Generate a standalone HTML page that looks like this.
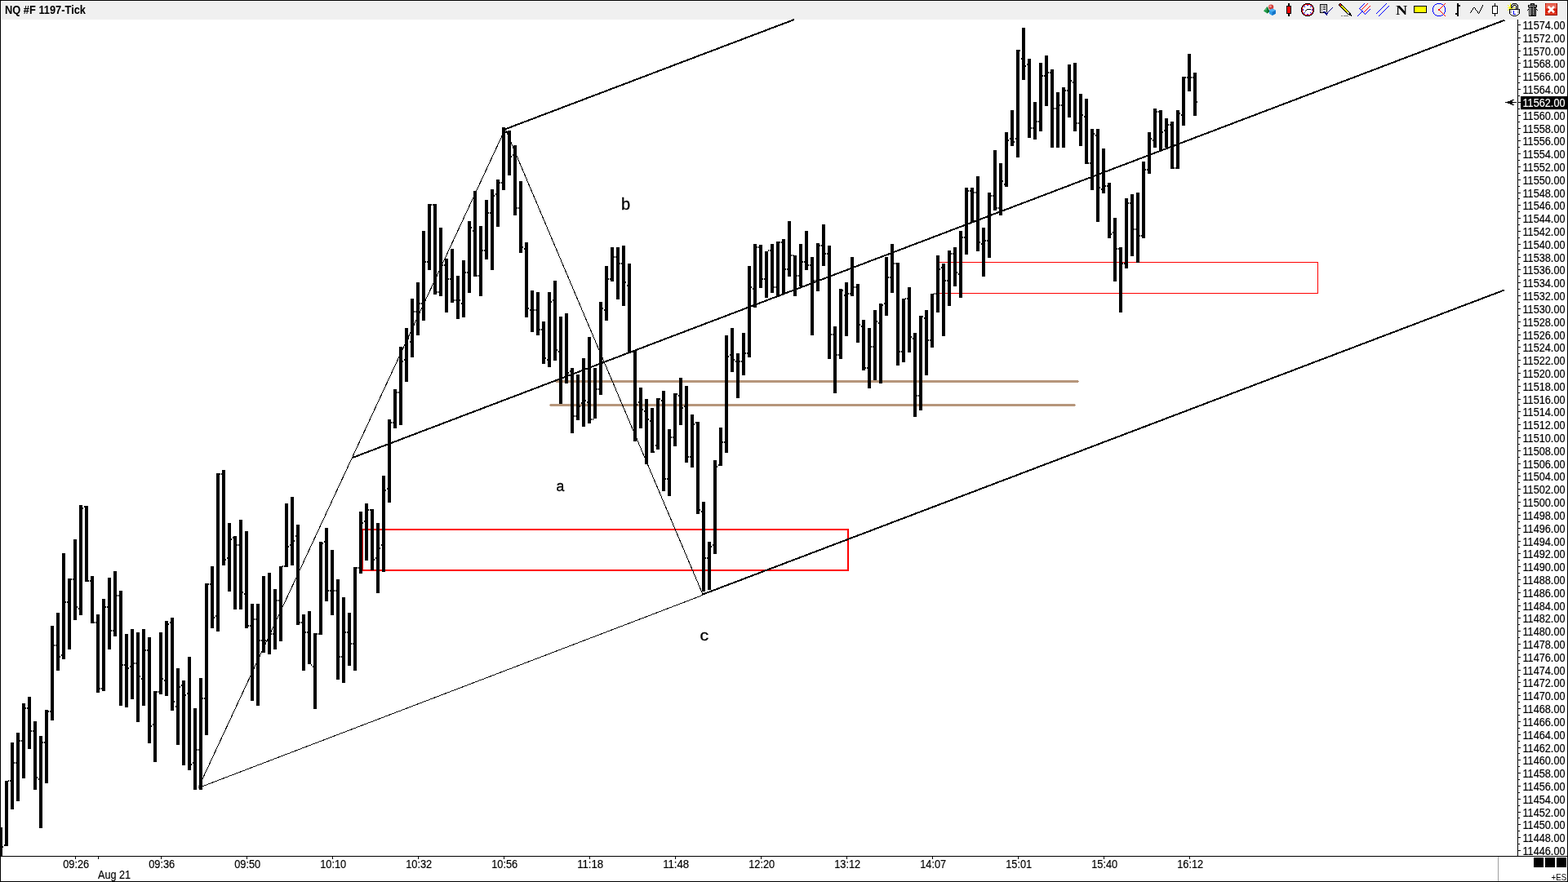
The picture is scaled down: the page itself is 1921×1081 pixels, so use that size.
<!DOCTYPE html>
<html lang="en"><head><meta charset="utf-8"><title>NQ #F 1197-Tick</title>
<style>
html,body{margin:0;padding:0;background:#fff;overflow:hidden}
body{width:1921px;height:1081px;position:relative;font-family:"Liberation Sans",sans-serif}
svg{position:absolute;left:0;top:0;display:block}
text{font-family:"Liberation Sans",sans-serif;fill:#000}
.ax{font-size:14px;stroke:#000;stroke-width:0.18px}
.crisp{shape-rendering:crispEdges}
</style></head><body>
<svg width="1921" height="1081" viewBox="0 0 1921 1081">
<rect x="0" y="0" width="1921" height="1081" fill="#fff"/>
<rect class="crisp" x="2" y="2" width="1917" height="22" fill="#f0f0f0"/>
<g class="crisp" fill="#000">
<rect x="0" y="0" width="1921" height="1"/>
<rect x="0" y="0" width="1" height="1081"/>
<rect x="1920" y="0" width="1" height="1081"/>
<rect x="0" y="1080" width="1921" height="1"/>
<rect x="1" y="1049" width="1919" height="1"/>
<rect x="1859" y="24" width="1" height="1026"/>
</g>
<rect class="crisp" x="1835" y="1050" width="1" height="30" fill="#a0a0a0"/>
<g class="crisp" fill="#000"><rect x="1879" y="1051" width="12" height="12"/><rect x="1893" y="1051" width="12" height="12"/><rect x="1907" y="1051" width="12" height="12"/></g>
<text x="1900.6" y="1078.8" style="font-size:11.4px" textLength="18.6" lengthAdjust="spacingAndGlyphs">+ES</text>
<text x="6" y="17" style="font-size:14px;font-weight:bold" textLength="99" lengthAdjust="spacingAndGlyphs">NQ #F 1197-Tick</text>
<g class="crisp" fill="#b6967b"><rect x="681" y="466" width="640" height="3"/><rect x="680" y="467" width="642" height="1"/><rect x="674" y="495" width="643" height="3"/><rect x="673" y="496" width="645" height="1"/></g>
<rect class="crisp" x="444" y="649" width="595" height="50" fill="none" stroke="#f00" stroke-width="2"/>
<rect class="crisp" x="1149.5" y="321.5" width="465" height="38" fill="none" stroke="#f00" stroke-width="1"/>
<g stroke="#000" fill="none" class="crisp">
<line x1="243.5" y1="964.5" x2="619" y2="158" stroke-width="1"/>
<line x1="619" y1="158" x2="861" y2="728.5" stroke-width="1"/>
<line x1="243.5" y1="965.5" x2="861" y2="729.4" stroke-width="1"/>
<line x1="861" y1="728.5" x2="1843" y2="355.5" stroke-width="2"/>
<line x1="431" y1="561.3" x2="1843.4" y2="24.6" stroke-width="2"/>
<line x1="619" y1="158.3" x2="973" y2="24" stroke-width="2"/>
</g>
<g class="crisp" fill="#000">
<rect x="0" y="1014" width="3" height="35"/>
<rect x="3" y="1037" width="1" height="2"/>
<rect x="6" y="957" width="4" height="80"/>
<rect x="5" y="1035" width="1" height="2"/>
<rect x="10" y="956" width="1" height="2"/>
<rect x="13" y="910" width="4" height="82"/>
<rect x="12" y="956" width="1" height="2"/>
<rect x="17" y="934" width="1" height="2"/>
<rect x="20" y="898" width="4" height="84"/>
<rect x="19" y="934" width="1" height="2"/>
<rect x="24" y="907" width="1" height="2"/>
<rect x="27" y="862" width="4" height="92"/>
<rect x="26" y="907" width="1" height="2"/>
<rect x="31" y="867" width="1" height="2"/>
<rect x="34" y="854" width="4" height="64"/>
<rect x="33" y="867" width="1" height="2"/>
<rect x="38" y="895" width="1" height="2"/>
<rect x="41" y="884" width="4" height="84"/>
<rect x="40" y="895" width="1" height="2"/>
<rect x="45" y="952" width="1" height="2"/>
<rect x="48" y="902" width="4" height="113"/>
<rect x="47" y="954" width="1" height="2"/>
<rect x="52" y="909" width="1" height="2"/>
<rect x="55" y="870" width="4" height="90"/>
<rect x="54" y="909" width="1" height="2"/>
<rect x="59" y="871" width="1" height="2"/>
<rect x="62" y="767" width="4" height="116"/>
<rect x="61" y="871" width="1" height="2"/>
<rect x="66" y="790" width="1" height="2"/>
<rect x="69" y="751" width="4" height="71"/>
<rect x="68" y="790" width="1" height="2"/>
<rect x="73" y="804" width="1" height="2"/>
<rect x="76" y="678" width="4" height="130"/>
<rect x="75" y="802" width="1" height="2"/>
<rect x="80" y="737" width="1" height="2"/>
<rect x="83" y="709" width="4" height="87"/>
<rect x="82" y="737" width="1" height="2"/>
<rect x="87" y="709" width="1" height="2"/>
<rect x="90" y="661" width="4" height="99"/>
<rect x="89" y="709" width="1" height="2"/>
<rect x="94" y="743" width="1" height="2"/>
<rect x="97" y="619" width="4" height="135"/>
<rect x="96" y="745" width="1" height="2"/>
<rect x="101" y="622" width="1" height="2"/>
<rect x="104" y="620" width="4" height="93"/>
<rect x="103" y="620" width="1" height="2"/>
<rect x="108" y="711" width="1" height="2"/>
<rect x="111" y="706" width="4" height="58"/>
<rect x="110" y="711" width="1" height="2"/>
<rect x="115" y="762" width="1" height="2"/>
<rect x="118" y="753" width="4" height="96"/>
<rect x="117" y="762" width="1" height="2"/>
<rect x="122" y="843" width="1" height="2"/>
<rect x="125" y="734" width="4" height="113"/>
<rect x="124" y="843" width="1" height="2"/>
<rect x="129" y="743" width="1" height="2"/>
<rect x="132" y="708" width="4" height="88"/>
<rect x="131" y="743" width="1" height="2"/>
<rect x="136" y="772" width="1" height="2"/>
<rect x="139" y="700" width="4" height="80"/>
<rect x="138" y="772" width="1" height="2"/>
<rect x="143" y="729" width="1" height="2"/>
<rect x="146" y="724" width="4" height="141"/>
<rect x="145" y="729" width="1" height="2"/>
<rect x="150" y="814" width="1" height="2"/>
<rect x="153" y="777" width="4" height="90"/>
<rect x="152" y="814" width="1" height="2"/>
<rect x="157" y="818" width="1" height="2"/>
<rect x="160" y="771" width="4" height="86"/>
<rect x="159" y="816" width="1" height="2"/>
<rect x="164" y="812" width="1" height="2"/>
<rect x="167" y="775" width="4" height="110"/>
<rect x="166" y="812" width="1" height="2"/>
<rect x="171" y="828" width="1" height="2"/>
<rect x="174" y="771" width="4" height="94"/>
<rect x="173" y="831" width="1" height="2"/>
<rect x="178" y="796" width="1" height="2"/>
<rect x="181" y="781" width="4" height="130"/>
<rect x="180" y="796" width="1" height="2"/>
<rect x="185" y="889" width="1" height="2"/>
<rect x="188" y="847" width="4" height="87"/>
<rect x="187" y="887" width="1" height="2"/>
<rect x="192" y="847" width="1" height="2"/>
<rect x="195" y="775" width="4" height="76"/>
<rect x="194" y="847" width="1" height="2"/>
<rect x="199" y="831" width="1" height="2"/>
<rect x="202" y="761" width="4" height="92"/>
<rect x="201" y="833" width="1" height="2"/>
<rect x="206" y="764" width="1" height="2"/>
<rect x="209" y="757" width="4" height="114"/>
<rect x="208" y="762" width="1" height="2"/>
<rect x="213" y="859" width="1" height="2"/>
<rect x="216" y="819" width="4" height="94"/>
<rect x="215" y="865" width="1" height="2"/>
<rect x="220" y="841" width="1" height="2"/>
<rect x="223" y="834" width="4" height="104"/>
<rect x="222" y="839" width="1" height="2"/>
<rect x="227" y="851" width="1" height="2"/>
<rect x="230" y="805" width="4" height="139"/>
<rect x="229" y="849" width="1" height="2"/>
<rect x="234" y="936" width="1" height="2"/>
<rect x="237" y="868" width="4" height="100"/>
<rect x="236" y="934" width="1" height="2"/>
<rect x="241" y="918" width="1" height="2"/>
<rect x="244" y="831" width="4" height="137"/>
<rect x="243" y="918" width="1" height="2"/>
<rect x="248" y="855" width="1" height="2"/>
<rect x="251" y="715" width="4" height="186"/>
<rect x="250" y="855" width="1" height="2"/>
<rect x="255" y="715" width="1" height="2"/>
<rect x="258" y="694" width="4" height="76"/>
<rect x="257" y="715" width="1" height="2"/>
<rect x="262" y="756" width="1" height="2"/>
<rect x="265" y="580" width="4" height="194"/>
<rect x="264" y="754" width="1" height="2"/>
<rect x="269" y="580" width="1" height="2"/>
<rect x="272" y="576" width="4" height="117"/>
<rect x="271" y="580" width="1" height="2"/>
<rect x="276" y="685" width="1" height="2"/>
<rect x="279" y="641" width="4" height="84"/>
<rect x="278" y="683" width="1" height="2"/>
<rect x="283" y="660" width="1" height="2"/>
<rect x="286" y="657" width="4" height="90"/>
<rect x="285" y="658" width="1" height="2"/>
<rect x="290" y="667" width="1" height="2"/>
<rect x="293" y="637" width="4" height="110"/>
<rect x="292" y="667" width="1" height="2"/>
<rect x="297" y="725" width="1" height="2"/>
<rect x="300" y="651" width="4" height="119"/>
<rect x="299" y="727" width="1" height="2"/>
<rect x="304" y="766" width="1" height="2"/>
<rect x="307" y="740" width="4" height="119"/>
<rect x="306" y="766" width="1" height="2"/>
<rect x="311" y="758" width="1" height="2"/>
<rect x="314" y="740" width="4" height="125"/>
<rect x="313" y="758" width="1" height="2"/>
<rect x="318" y="784" width="1" height="2"/>
<rect x="321" y="706" width="4" height="94"/>
<rect x="320" y="784" width="1" height="2"/>
<rect x="325" y="784" width="1" height="2"/>
<rect x="328" y="702" width="4" height="100"/>
<rect x="327" y="784" width="1" height="2"/>
<rect x="332" y="776" width="1" height="2"/>
<rect x="335" y="722" width="4" height="74"/>
<rect x="334" y="776" width="1" height="2"/>
<rect x="339" y="735" width="1" height="2"/>
<rect x="342" y="694" width="4" height="92"/>
<rect x="341" y="735" width="1" height="2"/>
<rect x="346" y="693" width="1" height="2"/>
<rect x="349" y="617" width="4" height="78"/>
<rect x="348" y="693" width="1" height="2"/>
<rect x="353" y="669" width="1" height="2"/>
<rect x="356" y="609" width="4" height="84"/>
<rect x="355" y="667" width="1" height="2"/>
<rect x="360" y="662" width="1" height="2"/>
<rect x="363" y="643" width="4" height="123"/>
<rect x="362" y="656" width="1" height="2"/>
<rect x="367" y="762" width="1" height="2"/>
<rect x="370" y="753" width="4" height="69"/>
<rect x="369" y="762" width="1" height="2"/>
<rect x="374" y="774" width="1" height="2"/>
<rect x="377" y="749" width="4" height="65"/>
<rect x="376" y="774" width="1" height="2"/>
<rect x="381" y="814" width="1" height="2"/>
<rect x="384" y="776" width="4" height="93"/>
<rect x="383" y="816" width="1" height="2"/>
<rect x="388" y="776" width="1" height="2"/>
<rect x="391" y="664" width="4" height="114"/>
<rect x="390" y="776" width="1" height="2"/>
<rect x="395" y="665" width="1" height="2"/>
<rect x="398" y="647" width="4" height="90"/>
<rect x="397" y="663" width="1" height="2"/>
<rect x="402" y="723" width="1" height="2"/>
<rect x="405" y="674" width="4" height="80"/>
<rect x="404" y="723" width="1" height="2"/>
<rect x="409" y="723" width="1" height="2"/>
<rect x="412" y="710" width="4" height="123"/>
<rect x="411" y="723" width="1" height="2"/>
<rect x="416" y="804" width="1" height="2"/>
<rect x="419" y="732" width="4" height="105"/>
<rect x="418" y="804" width="1" height="2"/>
<rect x="423" y="774" width="1" height="2"/>
<rect x="426" y="751" width="4" height="65"/>
<rect x="425" y="774" width="1" height="2"/>
<rect x="430" y="788" width="1" height="2"/>
<rect x="433" y="695" width="4" height="127"/>
<rect x="432" y="788" width="1" height="2"/>
<rect x="437" y="695" width="1" height="2"/>
<rect x="440" y="627" width="4" height="76"/>
<rect x="439" y="695" width="1" height="2"/>
<rect x="444" y="640" width="1" height="2"/>
<rect x="447" y="617" width="4" height="70"/>
<rect x="446" y="638" width="1" height="2"/>
<rect x="451" y="624" width="1" height="2"/>
<rect x="454" y="624" width="4" height="75"/>
<rect x="453" y="624" width="1" height="2"/>
<rect x="458" y="685" width="1" height="2"/>
<rect x="461" y="641" width="4" height="86"/>
<rect x="460" y="683" width="1" height="2"/>
<rect x="465" y="671" width="1" height="2"/>
<rect x="468" y="583" width="4" height="118"/>
<rect x="467" y="667" width="1" height="2"/>
<rect x="472" y="600" width="1" height="2"/>
<rect x="475" y="514" width="4" height="102"/>
<rect x="474" y="598" width="1" height="2"/>
<rect x="479" y="517" width="1" height="2"/>
<rect x="482" y="477" width="4" height="48"/>
<rect x="481" y="517" width="1" height="2"/>
<rect x="486" y="480" width="1" height="2"/>
<rect x="489" y="425" width="4" height="96"/>
<rect x="488" y="480" width="1" height="2"/>
<rect x="493" y="442" width="1" height="2"/>
<rect x="496" y="402" width="4" height="66"/>
<rect x="495" y="440" width="1" height="2"/>
<rect x="500" y="414" width="1" height="2"/>
<rect x="503" y="366" width="4" height="72"/>
<rect x="502" y="418" width="1" height="2"/>
<rect x="507" y="381" width="1" height="2"/>
<rect x="510" y="346" width="4" height="65"/>
<rect x="509" y="381" width="1" height="2"/>
<rect x="514" y="371" width="1" height="2"/>
<rect x="517" y="283" width="4" height="110"/>
<rect x="516" y="371" width="1" height="2"/>
<rect x="521" y="320" width="1" height="2"/>
<rect x="524" y="250" width="4" height="81"/>
<rect x="523" y="320" width="1" height="2"/>
<rect x="528" y="250" width="1" height="2"/>
<rect x="531" y="250" width="4" height="111"/>
<rect x="530" y="250" width="1" height="2"/>
<rect x="535" y="357" width="1" height="2"/>
<rect x="538" y="279" width="4" height="84"/>
<rect x="537" y="357" width="1" height="2"/>
<rect x="542" y="324" width="1" height="2"/>
<rect x="545" y="317" width="4" height="66"/>
<rect x="544" y="324" width="1" height="2"/>
<rect x="549" y="341" width="1" height="2"/>
<rect x="552" y="305" width="4" height="66"/>
<rect x="551" y="341" width="1" height="2"/>
<rect x="556" y="367" width="1" height="2"/>
<rect x="559" y="338" width="4" height="53"/>
<rect x="558" y="367" width="1" height="2"/>
<rect x="563" y="367" width="1" height="2"/>
<rect x="566" y="319" width="4" height="70"/>
<rect x="565" y="371" width="1" height="2"/>
<rect x="570" y="333" width="1" height="2"/>
<rect x="573" y="271" width="4" height="88"/>
<rect x="572" y="333" width="1" height="2"/>
<rect x="577" y="278" width="1" height="2"/>
<rect x="580" y="234" width="4" height="105"/>
<rect x="579" y="282" width="1" height="2"/>
<rect x="584" y="337" width="1" height="2"/>
<rect x="587" y="277" width="4" height="86"/>
<rect x="586" y="337" width="1" height="2"/>
<rect x="591" y="306" width="1" height="2"/>
<rect x="594" y="245" width="4" height="73"/>
<rect x="593" y="306" width="1" height="2"/>
<rect x="598" y="260" width="1" height="2"/>
<rect x="601" y="232" width="4" height="99"/>
<rect x="600" y="260" width="1" height="2"/>
<rect x="605" y="239" width="1" height="2"/>
<rect x="608" y="220" width="4" height="58"/>
<rect x="607" y="237" width="1" height="2"/>
<rect x="612" y="223" width="1" height="2"/>
<rect x="615" y="156" width="4" height="77"/>
<rect x="614" y="223" width="1" height="2"/>
<rect x="619" y="161" width="1" height="2"/>
<rect x="622" y="160" width="4" height="55"/>
<rect x="621" y="161" width="1" height="2"/>
<rect x="626" y="191" width="1" height="2"/>
<rect x="629" y="178" width="4" height="86"/>
<rect x="628" y="189" width="1" height="2"/>
<rect x="633" y="254" width="1" height="2"/>
<rect x="636" y="222" width="4" height="88"/>
<rect x="635" y="254" width="1" height="2"/>
<rect x="640" y="302" width="1" height="2"/>
<rect x="643" y="297" width="4" height="92"/>
<rect x="642" y="304" width="1" height="2"/>
<rect x="647" y="377" width="1" height="2"/>
<rect x="650" y="356" width="4" height="51"/>
<rect x="649" y="379" width="1" height="2"/>
<rect x="654" y="379" width="1" height="2"/>
<rect x="657" y="358" width="4" height="53"/>
<rect x="656" y="379" width="1" height="2"/>
<rect x="661" y="403" width="1" height="2"/>
<rect x="664" y="394" width="4" height="52"/>
<rect x="663" y="403" width="1" height="2"/>
<rect x="668" y="438" width="1" height="2"/>
<rect x="671" y="358" width="4" height="92"/>
<rect x="670" y="440" width="1" height="2"/>
<rect x="675" y="369" width="1" height="2"/>
<rect x="678" y="344" width="4" height="98"/>
<rect x="677" y="367" width="1" height="2"/>
<rect x="682" y="428" width="1" height="2"/>
<rect x="685" y="388" width="4" height="107"/>
<rect x="684" y="430" width="1" height="2"/>
<rect x="692" y="384" width="4" height="86"/>
<rect x="696" y="456" width="1" height="2"/>
<rect x="699" y="451" width="4" height="80"/>
<rect x="698" y="454" width="1" height="2"/>
<rect x="703" y="509" width="1" height="2"/>
<rect x="706" y="459" width="4" height="56"/>
<rect x="705" y="509" width="1" height="2"/>
<rect x="710" y="497" width="1" height="2"/>
<rect x="713" y="439" width="4" height="84"/>
<rect x="712" y="493" width="1" height="2"/>
<rect x="717" y="490" width="1" height="2"/>
<rect x="720" y="413" width="4" height="106"/>
<rect x="719" y="492" width="1" height="2"/>
<rect x="724" y="513" width="1" height="2"/>
<rect x="727" y="451" width="4" height="62"/>
<rect x="726" y="513" width="1" height="2"/>
<rect x="731" y="476" width="1" height="2"/>
<rect x="734" y="370" width="4" height="114"/>
<rect x="733" y="476" width="1" height="2"/>
<rect x="738" y="377" width="1" height="2"/>
<rect x="741" y="326" width="4" height="67"/>
<rect x="740" y="379" width="1" height="2"/>
<rect x="745" y="341" width="1" height="2"/>
<rect x="748" y="303" width="4" height="42"/>
<rect x="747" y="341" width="1" height="2"/>
<rect x="752" y="314" width="1" height="2"/>
<rect x="755" y="303" width="4" height="64"/>
<rect x="754" y="314" width="1" height="2"/>
<rect x="759" y="322" width="1" height="2"/>
<rect x="762" y="301" width="4" height="74"/>
<rect x="761" y="322" width="1" height="2"/>
<rect x="766" y="345" width="1" height="2"/>
<rect x="769" y="323" width="4" height="110"/>
<rect x="768" y="349" width="1" height="2"/>
<rect x="773" y="430" width="1" height="2"/>
<rect x="776" y="430" width="4" height="111"/>
<rect x="775" y="430" width="1" height="2"/>
<rect x="780" y="495" width="1" height="2"/>
<rect x="783" y="475" width="4" height="50"/>
<rect x="782" y="492" width="1" height="2"/>
<rect x="787" y="501" width="1" height="2"/>
<rect x="790" y="489" width="4" height="80"/>
<rect x="789" y="503" width="1" height="2"/>
<rect x="794" y="513" width="1" height="2"/>
<rect x="797" y="500" width="4" height="55"/>
<rect x="796" y="515" width="1" height="2"/>
<rect x="801" y="553" width="1" height="2"/>
<rect x="804" y="488" width="4" height="63"/>
<rect x="803" y="545" width="1" height="2"/>
<rect x="808" y="488" width="1" height="2"/>
<rect x="811" y="479" width="4" height="123"/>
<rect x="810" y="490" width="1" height="2"/>
<rect x="815" y="586" width="1" height="2"/>
<rect x="818" y="526" width="4" height="82"/>
<rect x="817" y="586" width="1" height="2"/>
<rect x="822" y="535" width="1" height="2"/>
<rect x="825" y="482" width="4" height="65"/>
<rect x="824" y="535" width="1" height="2"/>
<rect x="829" y="482" width="1" height="2"/>
<rect x="832" y="463" width="4" height="58"/>
<rect x="831" y="484" width="1" height="2"/>
<rect x="836" y="499" width="1" height="2"/>
<rect x="839" y="473" width="4" height="94"/>
<rect x="838" y="497" width="1" height="2"/>
<rect x="843" y="559" width="1" height="2"/>
<rect x="846" y="508" width="4" height="65"/>
<rect x="845" y="559" width="1" height="2"/>
<rect x="850" y="519" width="1" height="2"/>
<rect x="853" y="517" width="4" height="113"/>
<rect x="852" y="517" width="1" height="2"/>
<rect x="857" y="624" width="1" height="2"/>
<rect x="860" y="615" width="4" height="110"/>
<rect x="859" y="626" width="1" height="2"/>
<rect x="864" y="683" width="1" height="2"/>
<rect x="867" y="664" width="4" height="59"/>
<rect x="866" y="683" width="1" height="2"/>
<rect x="871" y="669" width="1" height="2"/>
<rect x="874" y="564" width="4" height="115"/>
<rect x="873" y="667" width="1" height="2"/>
<rect x="878" y="571" width="1" height="2"/>
<rect x="881" y="524" width="4" height="47"/>
<rect x="880" y="569" width="1" height="2"/>
<rect x="885" y="541" width="1" height="2"/>
<rect x="888" y="411" width="4" height="144"/>
<rect x="887" y="541" width="1" height="2"/>
<rect x="892" y="436" width="1" height="2"/>
<rect x="895" y="402" width="4" height="54"/>
<rect x="894" y="434" width="1" height="2"/>
<rect x="899" y="440" width="1" height="2"/>
<rect x="902" y="433" width="4" height="55"/>
<rect x="901" y="442" width="1" height="2"/>
<rect x="906" y="442" width="1" height="2"/>
<rect x="909" y="408" width="4" height="52"/>
<rect x="908" y="442" width="1" height="2"/>
<rect x="913" y="432" width="1" height="2"/>
<rect x="916" y="326" width="4" height="112"/>
<rect x="915" y="432" width="1" height="2"/>
<rect x="920" y="351" width="1" height="2"/>
<rect x="923" y="299" width="4" height="78"/>
<rect x="922" y="353" width="1" height="2"/>
<rect x="927" y="302" width="1" height="2"/>
<rect x="930" y="300" width="4" height="53"/>
<rect x="929" y="302" width="1" height="2"/>
<rect x="934" y="341" width="1" height="2"/>
<rect x="937" y="308" width="4" height="57"/>
<rect x="936" y="341" width="1" height="2"/>
<rect x="941" y="306" width="1" height="2"/>
<rect x="944" y="299" width="4" height="60"/>
<rect x="943" y="306" width="1" height="2"/>
<rect x="948" y="351" width="1" height="2"/>
<rect x="951" y="296" width="4" height="68"/>
<rect x="950" y="351" width="1" height="2"/>
<rect x="955" y="296" width="1" height="2"/>
<rect x="958" y="293" width="4" height="68"/>
<rect x="957" y="296" width="1" height="2"/>
<rect x="962" y="329" width="1" height="2"/>
<rect x="965" y="271" width="4" height="68"/>
<rect x="964" y="329" width="1" height="2"/>
<rect x="969" y="312" width="1" height="2"/>
<rect x="972" y="313" width="4" height="50"/>
<rect x="971" y="312" width="1" height="2"/>
<rect x="976" y="337" width="1" height="2"/>
<rect x="979" y="299" width="4" height="52"/>
<rect x="978" y="337" width="1" height="2"/>
<rect x="983" y="320" width="1" height="2"/>
<rect x="986" y="283" width="4" height="48"/>
<rect x="985" y="320" width="1" height="2"/>
<rect x="990" y="324" width="1" height="2"/>
<rect x="993" y="315" width="4" height="96"/>
<rect x="992" y="324" width="1" height="2"/>
<rect x="997" y="343" width="1" height="2"/>
<rect x="1000" y="298" width="4" height="59"/>
<rect x="999" y="343" width="1" height="2"/>
<rect x="1004" y="300" width="1" height="2"/>
<rect x="1007" y="275" width="4" height="51"/>
<rect x="1006" y="300" width="1" height="2"/>
<rect x="1011" y="310" width="1" height="2"/>
<rect x="1014" y="301" width="4" height="139"/>
<rect x="1013" y="310" width="1" height="2"/>
<rect x="1018" y="409" width="1" height="2"/>
<rect x="1021" y="400" width="4" height="82"/>
<rect x="1020" y="409" width="1" height="2"/>
<rect x="1025" y="434" width="1" height="2"/>
<rect x="1028" y="354" width="4" height="86"/>
<rect x="1027" y="434" width="1" height="2"/>
<rect x="1032" y="355" width="1" height="2"/>
<rect x="1035" y="346" width="4" height="66"/>
<rect x="1034" y="361" width="1" height="2"/>
<rect x="1039" y="359" width="1" height="2"/>
<rect x="1042" y="315" width="4" height="48"/>
<rect x="1041" y="359" width="1" height="2"/>
<rect x="1046" y="351" width="1" height="2"/>
<rect x="1049" y="348" width="4" height="72"/>
<rect x="1048" y="351" width="1" height="2"/>
<rect x="1053" y="397" width="1" height="2"/>
<rect x="1056" y="392" width="4" height="62"/>
<rect x="1055" y="399" width="1" height="2"/>
<rect x="1060" y="450" width="1" height="2"/>
<rect x="1063" y="402" width="4" height="74"/>
<rect x="1062" y="450" width="1" height="2"/>
<rect x="1067" y="424" width="1" height="2"/>
<rect x="1070" y="380" width="4" height="86"/>
<rect x="1069" y="424" width="1" height="2"/>
<rect x="1074" y="393" width="1" height="2"/>
<rect x="1077" y="372" width="4" height="98"/>
<rect x="1076" y="395" width="1" height="2"/>
<rect x="1081" y="373" width="1" height="2"/>
<rect x="1084" y="315" width="4" height="72"/>
<rect x="1083" y="371" width="1" height="2"/>
<rect x="1088" y="339" width="1" height="2"/>
<rect x="1091" y="299" width="4" height="60"/>
<rect x="1090" y="339" width="1" height="2"/>
<rect x="1095" y="322" width="1" height="2"/>
<rect x="1098" y="322" width="4" height="126"/>
<rect x="1097" y="322" width="1" height="2"/>
<rect x="1102" y="430" width="1" height="2"/>
<rect x="1105" y="366" width="4" height="78"/>
<rect x="1104" y="430" width="1" height="2"/>
<rect x="1109" y="365" width="1" height="2"/>
<rect x="1112" y="352" width="4" height="80"/>
<rect x="1111" y="365" width="1" height="2"/>
<rect x="1116" y="412" width="1" height="2"/>
<rect x="1119" y="408" width="4" height="103"/>
<rect x="1118" y="414" width="1" height="2"/>
<rect x="1123" y="484" width="1" height="2"/>
<rect x="1126" y="387" width="4" height="116"/>
<rect x="1125" y="484" width="1" height="2"/>
<rect x="1130" y="387" width="1" height="2"/>
<rect x="1133" y="380" width="4" height="80"/>
<rect x="1132" y="389" width="1" height="2"/>
<rect x="1137" y="416" width="1" height="2"/>
<rect x="1140" y="360" width="4" height="66"/>
<rect x="1139" y="416" width="1" height="2"/>
<rect x="1144" y="359" width="1" height="2"/>
<rect x="1147" y="313" width="4" height="70"/>
<rect x="1146" y="359" width="1" height="2"/>
<rect x="1151" y="329" width="1" height="2"/>
<rect x="1154" y="323" width="4" height="89"/>
<rect x="1153" y="327" width="1" height="2"/>
<rect x="1158" y="343" width="1" height="2"/>
<rect x="1161" y="307" width="4" height="68"/>
<rect x="1160" y="343" width="1" height="2"/>
<rect x="1165" y="310" width="1" height="2"/>
<rect x="1168" y="303" width="4" height="48"/>
<rect x="1167" y="310" width="1" height="2"/>
<rect x="1172" y="333" width="1" height="2"/>
<rect x="1175" y="283" width="4" height="82"/>
<rect x="1174" y="335" width="1" height="2"/>
<rect x="1179" y="290" width="1" height="2"/>
<rect x="1182" y="230" width="4" height="82"/>
<rect x="1181" y="290" width="1" height="2"/>
<rect x="1186" y="233" width="1" height="2"/>
<rect x="1189" y="230" width="4" height="43"/>
<rect x="1188" y="233" width="1" height="2"/>
<rect x="1193" y="235" width="1" height="2"/>
<rect x="1196" y="216" width="4" height="92"/>
<rect x="1195" y="235" width="1" height="2"/>
<rect x="1200" y="296" width="1" height="2"/>
<rect x="1203" y="279" width="4" height="60"/>
<rect x="1202" y="298" width="1" height="2"/>
<rect x="1207" y="294" width="1" height="2"/>
<rect x="1210" y="236" width="4" height="80"/>
<rect x="1209" y="294" width="1" height="2"/>
<rect x="1214" y="239" width="1" height="2"/>
<rect x="1217" y="184" width="4" height="74"/>
<rect x="1216" y="239" width="1" height="2"/>
<rect x="1221" y="254" width="1" height="2"/>
<rect x="1224" y="200" width="4" height="64"/>
<rect x="1223" y="254" width="1" height="2"/>
<rect x="1228" y="221" width="1" height="2"/>
<rect x="1231" y="162" width="4" height="67"/>
<rect x="1230" y="225" width="1" height="2"/>
<rect x="1235" y="171" width="1" height="2"/>
<rect x="1238" y="135" width="4" height="44"/>
<rect x="1237" y="169" width="1" height="2"/>
<rect x="1242" y="173" width="1" height="2"/>
<rect x="1245" y="61" width="4" height="132"/>
<rect x="1244" y="169" width="1" height="2"/>
<rect x="1249" y="61" width="1" height="2"/>
<rect x="1252" y="34" width="4" height="64"/>
<rect x="1251" y="71" width="1" height="2"/>
<rect x="1256" y="80" width="1" height="2"/>
<rect x="1259" y="72" width="4" height="97"/>
<rect x="1258" y="78" width="1" height="2"/>
<rect x="1263" y="156" width="1" height="2"/>
<rect x="1266" y="125" width="4" height="46"/>
<rect x="1265" y="156" width="1" height="2"/>
<rect x="1270" y="148" width="1" height="2"/>
<rect x="1273" y="77" width="4" height="84"/>
<rect x="1272" y="148" width="1" height="2"/>
<rect x="1277" y="92" width="1" height="2"/>
<rect x="1280" y="68" width="4" height="62"/>
<rect x="1279" y="92" width="1" height="2"/>
<rect x="1284" y="88" width="1" height="2"/>
<rect x="1287" y="85" width="4" height="96"/>
<rect x="1286" y="88" width="1" height="2"/>
<rect x="1291" y="132" width="1" height="2"/>
<rect x="1294" y="113" width="4" height="68"/>
<rect x="1293" y="132" width="1" height="2"/>
<rect x="1298" y="128" width="1" height="2"/>
<rect x="1301" y="107" width="4" height="74"/>
<rect x="1300" y="128" width="1" height="2"/>
<rect x="1305" y="110" width="1" height="2"/>
<rect x="1308" y="79" width="4" height="65"/>
<rect x="1307" y="110" width="1" height="2"/>
<rect x="1312" y="98" width="1" height="2"/>
<rect x="1315" y="77" width="4" height="84"/>
<rect x="1314" y="100" width="1" height="2"/>
<rect x="1319" y="150" width="1" height="2"/>
<rect x="1322" y="115" width="4" height="64"/>
<rect x="1321" y="150" width="1" height="2"/>
<rect x="1326" y="140" width="1" height="2"/>
<rect x="1329" y="121" width="4" height="80"/>
<rect x="1328" y="142" width="1" height="2"/>
<rect x="1333" y="199" width="1" height="2"/>
<rect x="1336" y="158" width="4" height="75"/>
<rect x="1335" y="199" width="1" height="2"/>
<rect x="1340" y="163" width="1" height="2"/>
<rect x="1343" y="158" width="4" height="114"/>
<rect x="1342" y="165" width="1" height="2"/>
<rect x="1347" y="229" width="1" height="2"/>
<rect x="1350" y="182" width="4" height="55"/>
<rect x="1349" y="231" width="1" height="2"/>
<rect x="1354" y="227" width="1" height="2"/>
<rect x="1357" y="224" width="4" height="68"/>
<rect x="1356" y="227" width="1" height="2"/>
<rect x="1361" y="286" width="1" height="2"/>
<rect x="1364" y="267" width="4" height="78"/>
<rect x="1363" y="284" width="1" height="2"/>
<rect x="1368" y="304" width="1" height="2"/>
<rect x="1371" y="303" width="4" height="80"/>
<rect x="1370" y="304" width="1" height="2"/>
<rect x="1375" y="322" width="1" height="2"/>
<rect x="1378" y="243" width="4" height="86"/>
<rect x="1377" y="322" width="1" height="2"/>
<rect x="1382" y="248" width="1" height="2"/>
<rect x="1385" y="238" width="4" height="76"/>
<rect x="1384" y="248" width="1" height="2"/>
<rect x="1389" y="280" width="1" height="2"/>
<rect x="1392" y="236" width="4" height="86"/>
<rect x="1391" y="280" width="1" height="2"/>
<rect x="1396" y="288" width="1" height="2"/>
<rect x="1399" y="198" width="4" height="94"/>
<rect x="1398" y="288" width="1" height="2"/>
<rect x="1403" y="207" width="1" height="2"/>
<rect x="1406" y="162" width="4" height="51"/>
<rect x="1405" y="207" width="1" height="2"/>
<rect x="1410" y="169" width="1" height="2"/>
<rect x="1413" y="133" width="4" height="48"/>
<rect x="1412" y="171" width="1" height="2"/>
<rect x="1417" y="136" width="1" height="2"/>
<rect x="1420" y="135" width="4" height="50"/>
<rect x="1419" y="136" width="1" height="2"/>
<rect x="1424" y="161" width="1" height="2"/>
<rect x="1427" y="145" width="4" height="36"/>
<rect x="1426" y="159" width="1" height="2"/>
<rect x="1431" y="152" width="1" height="2"/>
<rect x="1434" y="149" width="4" height="58"/>
<rect x="1433" y="152" width="1" height="2"/>
<rect x="1438" y="205" width="1" height="2"/>
<rect x="1441" y="135" width="4" height="72"/>
<rect x="1440" y="205" width="1" height="2"/>
<rect x="1445" y="138" width="1" height="2"/>
<rect x="1448" y="94" width="4" height="60"/>
<rect x="1447" y="140" width="1" height="2"/>
<rect x="1452" y="94" width="1" height="2"/>
<rect x="1455" y="66" width="4" height="46"/>
<rect x="1454" y="94" width="1" height="2"/>
<rect x="1459" y="94" width="1" height="2"/>
<rect x="1462" y="89" width="4" height="53"/>
<rect x="1461" y="94" width="1" height="2"/>
<rect x="1466" y="124" width="1" height="2"/>
</g>
<g style="stroke:#000;stroke-width:0.3px">
<text x="681.6" y="601.8" style="font-size:17.6px">a</text>
<text x="760.9" y="257" style="font-size:20px">b</text>
<text x="857.6" y="784.7" style="font-size:18.6px" textLength="10.6" lengthAdjust="spacingAndGlyphs">c</text>
</g>
<g class="crisp" fill="#000">
<rect x="1860" y="30" width="3" height="1"/>
<rect x="1860" y="38" width="2" height="1"/>
<rect x="1860" y="46" width="3" height="1"/>
<rect x="1860" y="54" width="2" height="1"/>
<rect x="1860" y="62" width="3" height="1"/>
<rect x="1860" y="70" width="2" height="1"/>
<rect x="1860" y="77" width="3" height="1"/>
<rect x="1860" y="85" width="2" height="1"/>
<rect x="1860" y="93" width="3" height="1"/>
<rect x="1860" y="101" width="2" height="1"/>
<rect x="1860" y="109" width="3" height="1"/>
<rect x="1860" y="117" width="2" height="1"/>
<rect x="1860" y="125" width="3" height="1"/>
<rect x="1860" y="133" width="2" height="1"/>
<rect x="1860" y="141" width="3" height="1"/>
<rect x="1860" y="149" width="2" height="1"/>
<rect x="1860" y="157" width="3" height="1"/>
<rect x="1860" y="164" width="2" height="1"/>
<rect x="1860" y="172" width="3" height="1"/>
<rect x="1860" y="180" width="2" height="1"/>
<rect x="1860" y="188" width="3" height="1"/>
<rect x="1860" y="196" width="2" height="1"/>
<rect x="1860" y="204" width="3" height="1"/>
<rect x="1860" y="212" width="2" height="1"/>
<rect x="1860" y="220" width="3" height="1"/>
<rect x="1860" y="228" width="2" height="1"/>
<rect x="1860" y="236" width="3" height="1"/>
<rect x="1860" y="243" width="2" height="1"/>
<rect x="1860" y="251" width="3" height="1"/>
<rect x="1860" y="259" width="2" height="1"/>
<rect x="1860" y="267" width="3" height="1"/>
<rect x="1860" y="275" width="2" height="1"/>
<rect x="1860" y="283" width="3" height="1"/>
<rect x="1860" y="291" width="2" height="1"/>
<rect x="1860" y="299" width="3" height="1"/>
<rect x="1860" y="307" width="2" height="1"/>
<rect x="1860" y="315" width="3" height="1"/>
<rect x="1860" y="323" width="2" height="1"/>
<rect x="1860" y="330" width="3" height="1"/>
<rect x="1860" y="338" width="2" height="1"/>
<rect x="1860" y="346" width="3" height="1"/>
<rect x="1860" y="354" width="2" height="1"/>
<rect x="1860" y="362" width="3" height="1"/>
<rect x="1860" y="370" width="2" height="1"/>
<rect x="1860" y="378" width="3" height="1"/>
<rect x="1860" y="386" width="2" height="1"/>
<rect x="1860" y="394" width="3" height="1"/>
<rect x="1860" y="402" width="2" height="1"/>
<rect x="1860" y="410" width="3" height="1"/>
<rect x="1860" y="417" width="2" height="1"/>
<rect x="1860" y="425" width="3" height="1"/>
<rect x="1860" y="433" width="2" height="1"/>
<rect x="1860" y="441" width="3" height="1"/>
<rect x="1860" y="449" width="2" height="1"/>
<rect x="1860" y="457" width="3" height="1"/>
<rect x="1860" y="465" width="2" height="1"/>
<rect x="1860" y="473" width="3" height="1"/>
<rect x="1860" y="481" width="2" height="1"/>
<rect x="1860" y="489" width="3" height="1"/>
<rect x="1860" y="496" width="2" height="1"/>
<rect x="1860" y="504" width="3" height="1"/>
<rect x="1860" y="512" width="2" height="1"/>
<rect x="1860" y="520" width="3" height="1"/>
<rect x="1860" y="528" width="2" height="1"/>
<rect x="1860" y="536" width="3" height="1"/>
<rect x="1860" y="544" width="2" height="1"/>
<rect x="1860" y="552" width="3" height="1"/>
<rect x="1860" y="560" width="2" height="1"/>
<rect x="1860" y="568" width="3" height="1"/>
<rect x="1860" y="576" width="2" height="1"/>
<rect x="1860" y="583" width="3" height="1"/>
<rect x="1860" y="591" width="2" height="1"/>
<rect x="1860" y="599" width="3" height="1"/>
<rect x="1860" y="607" width="2" height="1"/>
<rect x="1860" y="615" width="3" height="1"/>
<rect x="1860" y="623" width="2" height="1"/>
<rect x="1860" y="631" width="3" height="1"/>
<rect x="1860" y="639" width="2" height="1"/>
<rect x="1860" y="647" width="3" height="1"/>
<rect x="1860" y="655" width="2" height="1"/>
<rect x="1860" y="663" width="3" height="1"/>
<rect x="1860" y="670" width="2" height="1"/>
<rect x="1860" y="678" width="3" height="1"/>
<rect x="1860" y="686" width="2" height="1"/>
<rect x="1860" y="694" width="3" height="1"/>
<rect x="1860" y="702" width="2" height="1"/>
<rect x="1860" y="710" width="3" height="1"/>
<rect x="1860" y="718" width="2" height="1"/>
<rect x="1860" y="726" width="3" height="1"/>
<rect x="1860" y="734" width="2" height="1"/>
<rect x="1860" y="742" width="3" height="1"/>
<rect x="1860" y="749" width="2" height="1"/>
<rect x="1860" y="757" width="3" height="1"/>
<rect x="1860" y="765" width="2" height="1"/>
<rect x="1860" y="773" width="3" height="1"/>
<rect x="1860" y="781" width="2" height="1"/>
<rect x="1860" y="789" width="3" height="1"/>
<rect x="1860" y="797" width="2" height="1"/>
<rect x="1860" y="805" width="3" height="1"/>
<rect x="1860" y="813" width="2" height="1"/>
<rect x="1860" y="821" width="3" height="1"/>
<rect x="1860" y="829" width="2" height="1"/>
<rect x="1860" y="836" width="3" height="1"/>
<rect x="1860" y="844" width="2" height="1"/>
<rect x="1860" y="852" width="3" height="1"/>
<rect x="1860" y="860" width="2" height="1"/>
<rect x="1860" y="868" width="3" height="1"/>
<rect x="1860" y="876" width="2" height="1"/>
<rect x="1860" y="884" width="3" height="1"/>
<rect x="1860" y="892" width="2" height="1"/>
<rect x="1860" y="900" width="3" height="1"/>
<rect x="1860" y="908" width="2" height="1"/>
<rect x="1860" y="916" width="3" height="1"/>
<rect x="1860" y="923" width="2" height="1"/>
<rect x="1860" y="931" width="3" height="1"/>
<rect x="1860" y="939" width="2" height="1"/>
<rect x="1860" y="947" width="3" height="1"/>
<rect x="1860" y="955" width="2" height="1"/>
<rect x="1860" y="963" width="3" height="1"/>
<rect x="1860" y="971" width="2" height="1"/>
<rect x="1860" y="979" width="3" height="1"/>
<rect x="1860" y="987" width="2" height="1"/>
<rect x="1860" y="995" width="3" height="1"/>
<rect x="1860" y="1002" width="2" height="1"/>
<rect x="1860" y="1010" width="3" height="1"/>
<rect x="1860" y="1018" width="2" height="1"/>
<rect x="1860" y="1026" width="3" height="1"/>
<rect x="1860" y="1034" width="2" height="1"/>
<rect x="1860" y="1042" width="3" height="1"/>
</g>
<g class="ax">
<text x="1865.5" y="36" textLength="52" lengthAdjust="spacingAndGlyphs">11574.00</text>
<text x="1865.5" y="52" textLength="52" lengthAdjust="spacingAndGlyphs">11572.00</text>
<text x="1865.5" y="68" textLength="52" lengthAdjust="spacingAndGlyphs">11570.00</text>
<text x="1865.5" y="83" textLength="52" lengthAdjust="spacingAndGlyphs">11568.00</text>
<text x="1865.5" y="99" textLength="52" lengthAdjust="spacingAndGlyphs">11566.00</text>
<text x="1865.5" y="115" textLength="52" lengthAdjust="spacingAndGlyphs">11564.00</text>
<rect class="crisp" x="1863" y="118" width="57" height="16" fill="#000"/>
<text x="1865.5" y="131" textLength="52" lengthAdjust="spacingAndGlyphs" style="fill:#fff;stroke:#fff">11562.00</text>
<text x="1865.5" y="147" textLength="52" lengthAdjust="spacingAndGlyphs">11560.00</text>
<text x="1865.5" y="163" textLength="52" lengthAdjust="spacingAndGlyphs">11558.00</text>
<text x="1865.5" y="178" textLength="52" lengthAdjust="spacingAndGlyphs">11556.00</text>
<text x="1865.5" y="194" textLength="52" lengthAdjust="spacingAndGlyphs">11554.00</text>
<text x="1865.5" y="210" textLength="52" lengthAdjust="spacingAndGlyphs">11552.00</text>
<text x="1865.5" y="226" textLength="52" lengthAdjust="spacingAndGlyphs">11550.00</text>
<text x="1865.5" y="242" textLength="52" lengthAdjust="spacingAndGlyphs">11548.00</text>
<text x="1865.5" y="257" textLength="52" lengthAdjust="spacingAndGlyphs">11546.00</text>
<text x="1865.5" y="273" textLength="52" lengthAdjust="spacingAndGlyphs">11544.00</text>
<text x="1865.5" y="289" textLength="52" lengthAdjust="spacingAndGlyphs">11542.00</text>
<text x="1865.5" y="305" textLength="52" lengthAdjust="spacingAndGlyphs">11540.00</text>
<text x="1865.5" y="321" textLength="52" lengthAdjust="spacingAndGlyphs">11538.00</text>
<text x="1865.5" y="336" textLength="52" lengthAdjust="spacingAndGlyphs">11536.00</text>
<text x="1865.5" y="352" textLength="52" lengthAdjust="spacingAndGlyphs">11534.00</text>
<text x="1865.5" y="368" textLength="52" lengthAdjust="spacingAndGlyphs">11532.00</text>
<text x="1865.5" y="384" textLength="52" lengthAdjust="spacingAndGlyphs">11530.00</text>
<text x="1865.5" y="400" textLength="52" lengthAdjust="spacingAndGlyphs">11528.00</text>
<text x="1865.5" y="416" textLength="52" lengthAdjust="spacingAndGlyphs">11526.00</text>
<text x="1865.5" y="431" textLength="52" lengthAdjust="spacingAndGlyphs">11524.00</text>
<text x="1865.5" y="447" textLength="52" lengthAdjust="spacingAndGlyphs">11522.00</text>
<text x="1865.5" y="463" textLength="52" lengthAdjust="spacingAndGlyphs">11520.00</text>
<text x="1865.5" y="479" textLength="52" lengthAdjust="spacingAndGlyphs">11518.00</text>
<text x="1865.5" y="495" textLength="52" lengthAdjust="spacingAndGlyphs">11516.00</text>
<text x="1865.5" y="510" textLength="52" lengthAdjust="spacingAndGlyphs">11514.00</text>
<text x="1865.5" y="526" textLength="52" lengthAdjust="spacingAndGlyphs">11512.00</text>
<text x="1865.5" y="542" textLength="52" lengthAdjust="spacingAndGlyphs">11510.00</text>
<text x="1865.5" y="558" textLength="52" lengthAdjust="spacingAndGlyphs">11508.00</text>
<text x="1865.5" y="574" textLength="52" lengthAdjust="spacingAndGlyphs">11506.00</text>
<text x="1865.5" y="589" textLength="52" lengthAdjust="spacingAndGlyphs">11504.00</text>
<text x="1865.5" y="605" textLength="52" lengthAdjust="spacingAndGlyphs">11502.00</text>
<text x="1865.5" y="621" textLength="52" lengthAdjust="spacingAndGlyphs">11500.00</text>
<text x="1865.5" y="637" textLength="52" lengthAdjust="spacingAndGlyphs">11498.00</text>
<text x="1865.5" y="653" textLength="52" lengthAdjust="spacingAndGlyphs">11496.00</text>
<text x="1865.5" y="669" textLength="52" lengthAdjust="spacingAndGlyphs">11494.00</text>
<text x="1865.5" y="684" textLength="52" lengthAdjust="spacingAndGlyphs">11492.00</text>
<text x="1865.5" y="700" textLength="52" lengthAdjust="spacingAndGlyphs">11490.00</text>
<text x="1865.5" y="716" textLength="52" lengthAdjust="spacingAndGlyphs">11488.00</text>
<text x="1865.5" y="732" textLength="52" lengthAdjust="spacingAndGlyphs">11486.00</text>
<text x="1865.5" y="748" textLength="52" lengthAdjust="spacingAndGlyphs">11484.00</text>
<text x="1865.5" y="763" textLength="52" lengthAdjust="spacingAndGlyphs">11482.00</text>
<text x="1865.5" y="779" textLength="52" lengthAdjust="spacingAndGlyphs">11480.00</text>
<text x="1865.5" y="795" textLength="52" lengthAdjust="spacingAndGlyphs">11478.00</text>
<text x="1865.5" y="811" textLength="52" lengthAdjust="spacingAndGlyphs">11476.00</text>
<text x="1865.5" y="827" textLength="52" lengthAdjust="spacingAndGlyphs">11474.00</text>
<text x="1865.5" y="842" textLength="52" lengthAdjust="spacingAndGlyphs">11472.00</text>
<text x="1865.5" y="858" textLength="52" lengthAdjust="spacingAndGlyphs">11470.00</text>
<text x="1865.5" y="874" textLength="52" lengthAdjust="spacingAndGlyphs">11468.00</text>
<text x="1865.5" y="890" textLength="52" lengthAdjust="spacingAndGlyphs">11466.00</text>
<text x="1865.5" y="906" textLength="52" lengthAdjust="spacingAndGlyphs">11464.00</text>
<text x="1865.5" y="922" textLength="52" lengthAdjust="spacingAndGlyphs">11462.00</text>
<text x="1865.5" y="937" textLength="52" lengthAdjust="spacingAndGlyphs">11460.00</text>
<text x="1865.5" y="953" textLength="52" lengthAdjust="spacingAndGlyphs">11458.00</text>
<text x="1865.5" y="969" textLength="52" lengthAdjust="spacingAndGlyphs">11456.00</text>
<text x="1865.5" y="985" textLength="52" lengthAdjust="spacingAndGlyphs">11454.00</text>
<text x="1865.5" y="1001" textLength="52" lengthAdjust="spacingAndGlyphs">11452.00</text>
<text x="1865.5" y="1016" textLength="52" lengthAdjust="spacingAndGlyphs">11450.00</text>
<text x="1865.5" y="1032" textLength="52" lengthAdjust="spacingAndGlyphs">11448.00</text>
<text x="1865.5" y="1048" textLength="52" lengthAdjust="spacingAndGlyphs">11446.00</text>
</g>
<g class="crisp" fill="#000"><rect x="1852" y="122" width="3" height="1"/><rect x="1850" y="123" width="3" height="1"/><rect x="1847" y="124" width="6" height="1"/><rect x="1844" y="125" width="14" height="1"/><rect x="1847" y="126" width="6" height="1"/><rect x="1850" y="127" width="3" height="1"/><rect x="1852" y="128" width="3" height="1"/></g>
<g class="crisp" fill="#000">
<rect x="92" y="1050" width="1" height="3"/>
<rect x="197" y="1050" width="1" height="3"/>
<rect x="302" y="1050" width="1" height="3"/>
<rect x="407" y="1050" width="1" height="3"/>
<rect x="512" y="1050" width="1" height="3"/>
<rect x="617" y="1050" width="1" height="3"/>
<rect x="722" y="1050" width="1" height="3"/>
<rect x="827" y="1050" width="1" height="3"/>
<rect x="932" y="1050" width="1" height="3"/>
<rect x="1037" y="1050" width="1" height="3"/>
<rect x="1142" y="1050" width="1" height="3"/>
<rect x="1247" y="1050" width="1" height="3"/>
<rect x="1352" y="1050" width="1" height="3"/>
<rect x="1457" y="1050" width="1" height="3"/>
<rect x="120" y="1050" width="1" height="3"/>
</g>
<g class="ax">
<text x="77.2" y="1064" textLength="32" lengthAdjust="spacingAndGlyphs">09:26</text>
<text x="182.2" y="1064" textLength="32" lengthAdjust="spacingAndGlyphs">09:36</text>
<text x="287.2" y="1064" textLength="32" lengthAdjust="spacingAndGlyphs">09:50</text>
<text x="392.2" y="1064" textLength="32" lengthAdjust="spacingAndGlyphs">10:10</text>
<text x="497.2" y="1064" textLength="32" lengthAdjust="spacingAndGlyphs">10:32</text>
<text x="602.2" y="1064" textLength="32" lengthAdjust="spacingAndGlyphs">10:56</text>
<text x="707.2" y="1064" textLength="32" lengthAdjust="spacingAndGlyphs">11:18</text>
<text x="812.2" y="1064" textLength="32" lengthAdjust="spacingAndGlyphs">11:48</text>
<text x="917.2" y="1064" textLength="32" lengthAdjust="spacingAndGlyphs">12:20</text>
<text x="1022.2" y="1064" textLength="32" lengthAdjust="spacingAndGlyphs">13:12</text>
<text x="1127.2" y="1064" textLength="32" lengthAdjust="spacingAndGlyphs">14:07</text>
<text x="1232.2" y="1064" textLength="32" lengthAdjust="spacingAndGlyphs">15:01</text>
<text x="1337.2" y="1064" textLength="32" lengthAdjust="spacingAndGlyphs">15:40</text>
<text x="1442.2" y="1064" textLength="32" lengthAdjust="spacingAndGlyphs">16:12</text>
<text x="120" y="1077" textLength="40" lengthAdjust="spacingAndGlyphs">Aug 21</text>
</g>
<g id="tb-icons">
<g>
<circle cx="1557.2" cy="8.7" r="3.1" fill="#d43a36"/>
<circle cx="1556.4" cy="7.8" r="1.5" fill="#ec9a96"/>
<path d="M1552.5 7.9 L1548 13.5 L1552.6 16.5 L1555.4 14 Z" fill="#1f9a48"/>
<path d="M1552.5 7.9 L1552.6 16.5 L1555.4 14 Z" fill="#0c6a2c"/>
<path d="M1551.6 9.3 L1549.6 12.6 L1551.4 12.2 Z" fill="#6cc98a"/>
<path d="M1558.6 10.4 L1562.9 12.5 L1562.9 16.7 L1558.6 18.9 L1554.9 16.7 L1555.1 12.5 Z" fill="#2f9be9"/>
<path d="M1558.6 14.6 L1562.9 12.5 L1562.9 16.7 L1558.6 18.9 Z" fill="#1573c6"/>
<path d="M1558.6 10.4 L1562.9 12.5 L1558.6 14.6 L1555.1 12.5 Z" fill="#4fb0f3"/>
</g>
<g class="crisp"><rect x="1578" y="4" width="2" height="16" fill="#000"/><rect x="1576" y="7" width="6" height="10" fill="#000"/><rect x="1577" y="8" width="4" height="8" fill="#f00"/></g>
<g class="crisp"><rect x="1599" y="4" width="6" height="1" fill="#000"/><rect x="1597" y="5" width="2" height="1" fill="#000"/><rect x="1599" y="5" width="6" height="1" fill="#f00"/><rect x="1605" y="5" width="2" height="1" fill="#000"/><rect x="1596" y="6" width="1" height="1" fill="#000"/><rect x="1597" y="6" width="2" height="1" fill="#f00"/><rect x="1599" y="6" width="2" height="1" fill="#fff"/><rect x="1601" y="6" width="2" height="1" fill="#00f"/><rect x="1603" y="6" width="2" height="1" fill="#fff"/><rect x="1605" y="6" width="2" height="1" fill="#f00"/><rect x="1607" y="6" width="1" height="1" fill="#000"/><rect x="1595" y="7" width="1" height="1" fill="#000"/><rect x="1596" y="7" width="1" height="1" fill="#f00"/><rect x="1597" y="7" width="1" height="1" fill="#00f"/><rect x="1598" y="7" width="8" height="1" fill="#fff"/><rect x="1606" y="7" width="1" height="1" fill="#00f"/><rect x="1607" y="7" width="1" height="1" fill="#f00"/><rect x="1608" y="7" width="1" height="1" fill="#000"/><rect x="1595" y="8" width="1" height="1" fill="#000"/><rect x="1596" y="8" width="1" height="1" fill="#f00"/><rect x="1597" y="8" width="1" height="1" fill="#fff"/><rect x="1598" y="8" width="1" height="1" fill="#00f"/><rect x="1599" y="8" width="6" height="1" fill="#fff"/><rect x="1605" y="8" width="1" height="1" fill="#00f"/><rect x="1606" y="8" width="1" height="1" fill="#fff"/><rect x="1607" y="8" width="1" height="1" fill="#f00"/><rect x="1608" y="8" width="1" height="1" fill="#000"/><rect x="1594" y="9" width="1" height="1" fill="#000"/><rect x="1595" y="9" width="1" height="1" fill="#f00"/><rect x="1596" y="9" width="12" height="1" fill="#fff"/><rect x="1608" y="9" width="1" height="1" fill="#f00"/><rect x="1609" y="9" width="1" height="1" fill="#000"/><rect x="1594" y="10" width="1" height="1" fill="#000"/><rect x="1595" y="10" width="1" height="1" fill="#f00"/><rect x="1596" y="10" width="12" height="1" fill="#fff"/><rect x="1608" y="10" width="1" height="1" fill="#f00"/><rect x="1609" y="10" width="1" height="1" fill="#000"/><rect x="1594" y="11" width="1" height="1" fill="#000"/><rect x="1595" y="11" width="1" height="1" fill="#f00"/><rect x="1596" y="11" width="1" height="1" fill="#00f"/><rect x="1597" y="11" width="4" height="1" fill="#fff"/><rect x="1601" y="11" width="5" height="1" fill="#000"/><rect x="1606" y="11" width="1" height="1" fill="#fff"/><rect x="1607" y="11" width="1" height="1" fill="#00f"/><rect x="1608" y="11" width="1" height="1" fill="#f00"/><rect x="1609" y="11" width="1" height="1" fill="#000"/><rect x="1594" y="12" width="1" height="1" fill="#000"/><rect x="1595" y="12" width="1" height="1" fill="#f00"/><rect x="1596" y="12" width="1" height="1" fill="#00f"/><rect x="1597" y="12" width="3" height="1" fill="#fff"/><rect x="1600" y="12" width="1" height="1" fill="#000"/><rect x="1601" y="12" width="6" height="1" fill="#fff"/><rect x="1607" y="12" width="1" height="1" fill="#00f"/><rect x="1608" y="12" width="1" height="1" fill="#f00"/><rect x="1609" y="12" width="1" height="1" fill="#000"/><rect x="1594" y="13" width="1" height="1" fill="#000"/><rect x="1595" y="13" width="1" height="1" fill="#f00"/><rect x="1596" y="13" width="3" height="1" fill="#fff"/><rect x="1599" y="13" width="1" height="1" fill="#000"/><rect x="1600" y="13" width="8" height="1" fill="#fff"/><rect x="1608" y="13" width="1" height="1" fill="#f00"/><rect x="1609" y="13" width="1" height="1" fill="#000"/><rect x="1594" y="14" width="1" height="1" fill="#000"/><rect x="1595" y="14" width="1" height="1" fill="#f00"/><rect x="1596" y="14" width="12" height="1" fill="#fff"/><rect x="1608" y="14" width="1" height="1" fill="#f00"/><rect x="1609" y="14" width="1" height="1" fill="#000"/><rect x="1595" y="15" width="1" height="1" fill="#000"/><rect x="1596" y="15" width="1" height="1" fill="#f00"/><rect x="1597" y="15" width="1" height="1" fill="#fff"/><rect x="1598" y="15" width="1" height="1" fill="#00f"/><rect x="1599" y="15" width="6" height="1" fill="#fff"/><rect x="1605" y="15" width="1" height="1" fill="#00f"/><rect x="1606" y="15" width="1" height="1" fill="#fff"/><rect x="1607" y="15" width="1" height="1" fill="#f00"/><rect x="1608" y="15" width="1" height="1" fill="#000"/><rect x="1595" y="16" width="1" height="1" fill="#000"/><rect x="1596" y="16" width="1" height="1" fill="#f00"/><rect x="1597" y="16" width="1" height="1" fill="#00f"/><rect x="1598" y="16" width="8" height="1" fill="#fff"/><rect x="1606" y="16" width="1" height="1" fill="#00f"/><rect x="1607" y="16" width="1" height="1" fill="#f00"/><rect x="1608" y="16" width="1" height="1" fill="#000"/><rect x="1596" y="17" width="1" height="1" fill="#000"/><rect x="1597" y="17" width="2" height="1" fill="#f00"/><rect x="1599" y="17" width="2" height="1" fill="#fff"/><rect x="1601" y="17" width="2" height="1" fill="#00f"/><rect x="1603" y="17" width="2" height="1" fill="#fff"/><rect x="1605" y="17" width="2" height="1" fill="#f00"/><rect x="1607" y="17" width="1" height="1" fill="#000"/><rect x="1597" y="18" width="2" height="1" fill="#000"/><rect x="1599" y="18" width="6" height="1" fill="#f00"/><rect x="1605" y="18" width="2" height="1" fill="#000"/><rect x="1599" y="19" width="6" height="1" fill="#000"/></g>
<g class="crisp"><rect x="1617" y="5" width="9" height="1" fill="#000"/><rect x="1617" y="6" width="1" height="1" fill="#000"/><rect x="1618" y="6" width="7" height="1" fill="#fff"/><rect x="1625" y="6" width="1" height="1" fill="#000"/><rect x="1617" y="7" width="1" height="1" fill="#000"/><rect x="1618" y="7" width="1" height="1" fill="#fff"/><rect x="1619" y="7" width="1" height="1" fill="#000"/><rect x="1620" y="7" width="1" height="1" fill="#fff"/><rect x="1621" y="7" width="3" height="1" fill="#000"/><rect x="1624" y="7" width="1" height="1" fill="#fff"/><rect x="1625" y="7" width="1" height="1" fill="#000"/><rect x="1617" y="8" width="1" height="1" fill="#000"/><rect x="1618" y="8" width="7" height="1" fill="#fff"/><rect x="1625" y="8" width="1" height="1" fill="#000"/><rect x="1617" y="9" width="1" height="1" fill="#000"/><rect x="1618" y="9" width="1" height="1" fill="#fff"/><rect x="1619" y="9" width="1" height="1" fill="#000"/><rect x="1620" y="9" width="1" height="1" fill="#fff"/><rect x="1621" y="9" width="3" height="1" fill="#000"/><rect x="1624" y="9" width="1" height="1" fill="#fff"/><rect x="1625" y="9" width="1" height="1" fill="#000"/><rect x="1632" y="9" width="1" height="1" fill="#000080"/><rect x="1617" y="10" width="1" height="1" fill="#000"/><rect x="1618" y="10" width="7" height="1" fill="#fff"/><rect x="1625" y="10" width="1" height="1" fill="#000"/><rect x="1631" y="10" width="1" height="1" fill="#000080"/><rect x="1617" y="11" width="1" height="1" fill="#000"/><rect x="1618" y="11" width="1" height="1" fill="#fff"/><rect x="1619" y="11" width="1" height="1" fill="#000"/><rect x="1620" y="11" width="1" height="1" fill="#fff"/><rect x="1621" y="11" width="3" height="1" fill="#000"/><rect x="1624" y="11" width="1" height="1" fill="#fff"/><rect x="1625" y="11" width="1" height="1" fill="#000"/><rect x="1630" y="11" width="1" height="1" fill="#000080"/><rect x="1617" y="12" width="1" height="1" fill="#000"/><rect x="1618" y="12" width="7" height="1" fill="#fff"/><rect x="1625" y="12" width="1" height="1" fill="#000"/><rect x="1629" y="12" width="1" height="1" fill="#000080"/><rect x="1617" y="13" width="1" height="1" fill="#000"/><rect x="1618" y="13" width="1" height="1" fill="#fff"/><rect x="1619" y="13" width="1" height="1" fill="#000"/><rect x="1620" y="13" width="5" height="1" fill="#fff"/><rect x="1625" y="13" width="1" height="1" fill="#000"/><rect x="1628" y="13" width="1" height="1" fill="#000080"/><rect x="1617" y="14" width="1" height="1" fill="#000"/><rect x="1618" y="14" width="3" height="1" fill="#fff"/><rect x="1621" y="14" width="3" height="1" fill="#000080"/><rect x="1624" y="14" width="1" height="1" fill="#fff"/><rect x="1625" y="14" width="1" height="1" fill="#000"/><rect x="1627" y="14" width="1" height="1" fill="#000080"/><rect x="1617" y="15" width="5" height="1" fill="#000"/><rect x="1622" y="15" width="3" height="1" fill="#000080"/><rect x="1626" y="15" width="1" height="1" fill="#000080"/><rect x="1623" y="16" width="4" height="1" fill="#000080"/><rect x="1624" y="17" width="2" height="1" fill="#000080"/><rect x="1625" y="18" width="1" height="1" fill="#000080"/></g>
<g class="crisp"><rect x="1641" y="4" width="2" height="1" fill="#000"/><rect x="1640" y="5" width="1" height="1" fill="#000"/><rect x="1641" y="5" width="2" height="1" fill="#f00"/><rect x="1643" y="5" width="1" height="1" fill="#000"/><rect x="1640" y="6" width="1" height="1" fill="#000"/><rect x="1641" y="6" width="2" height="1" fill="#f00"/><rect x="1643" y="6" width="2" height="1" fill="#000"/><rect x="1641" y="7" width="1" height="1" fill="#000"/><rect x="1642" y="7" width="1" height="1" fill="#808000"/><rect x="1643" y="7" width="2" height="1" fill="#ff0"/><rect x="1645" y="7" width="1" height="1" fill="#000"/><rect x="1642" y="8" width="1" height="1" fill="#000"/><rect x="1643" y="8" width="1" height="1" fill="#808000"/><rect x="1644" y="8" width="2" height="1" fill="#ff0"/><rect x="1646" y="8" width="1" height="1" fill="#000"/><rect x="1643" y="9" width="1" height="1" fill="#000"/><rect x="1644" y="9" width="1" height="1" fill="#808000"/><rect x="1645" y="9" width="2" height="1" fill="#ff0"/><rect x="1647" y="9" width="1" height="1" fill="#000"/><rect x="1644" y="10" width="1" height="1" fill="#000"/><rect x="1645" y="10" width="1" height="1" fill="#808000"/><rect x="1646" y="10" width="2" height="1" fill="#ff0"/><rect x="1648" y="10" width="1" height="1" fill="#000"/><rect x="1645" y="11" width="1" height="1" fill="#000"/><rect x="1646" y="11" width="1" height="1" fill="#808000"/><rect x="1647" y="11" width="2" height="1" fill="#ff0"/><rect x="1649" y="11" width="1" height="1" fill="#000"/><rect x="1646" y="12" width="1" height="1" fill="#000"/><rect x="1647" y="12" width="1" height="1" fill="#808000"/><rect x="1648" y="12" width="2" height="1" fill="#ff0"/><rect x="1650" y="12" width="1" height="1" fill="#000"/><rect x="1647" y="13" width="1" height="1" fill="#000"/><rect x="1648" y="13" width="1" height="1" fill="#808000"/><rect x="1649" y="13" width="2" height="1" fill="#ff0"/><rect x="1651" y="13" width="1" height="1" fill="#000"/><rect x="1648" y="14" width="1" height="1" fill="#000"/><rect x="1649" y="14" width="1" height="1" fill="#808000"/><rect x="1650" y="14" width="2" height="1" fill="#ff0"/><rect x="1652" y="14" width="1" height="1" fill="#000"/><rect x="1649" y="15" width="1" height="1" fill="#000"/><rect x="1650" y="15" width="3" height="1" fill="#c0c0c0"/><rect x="1653" y="15" width="1" height="1" fill="#000"/><rect x="1650" y="16" width="1" height="1" fill="#000"/><rect x="1651" y="16" width="2" height="1" fill="#c0c0c0"/><rect x="1653" y="16" width="2" height="1" fill="#000"/><rect x="1651" y="17" width="4" height="1" fill="#000"/><rect x="1653" y="18" width="3" height="1" fill="#000"/><rect x="1643" y="19" width="2" height="1" fill="#808080"/><rect x="1646" y="19" width="6" height="1" fill="#808080"/><rect x="1655" y="19" width="1" height="1" fill="#000"/></g>
<g class="crisp"><rect x="1668" y="11" width="1" height="1" fill="#f00"/><rect x="1669" y="10" width="1" height="1" fill="#f00"/><rect x="1670" y="9" width="1" height="1" fill="#f00"/><rect x="1671" y="8" width="1" height="1" fill="#f00"/><rect x="1672" y="7" width="1" height="1" fill="#f00"/><rect x="1673" y="6" width="1" height="1" fill="#f00"/><rect x="1674" y="5" width="1" height="1" fill="#f00"/><rect x="1675" y="4" width="1" height="1" fill="#f00"/><rect x="1671" y="14" width="1" height="1" fill="#f00"/><rect x="1672" y="13" width="1" height="1" fill="#f00"/><rect x="1673" y="12" width="1" height="1" fill="#f00"/><rect x="1674" y="11" width="1" height="1" fill="#f00"/><rect x="1675" y="10" width="1" height="1" fill="#f00"/><rect x="1676" y="9" width="1" height="1" fill="#f00"/><rect x="1677" y="8" width="1" height="1" fill="#f00"/><rect x="1678" y="7" width="1" height="1" fill="#f00"/><rect x="1663" y="19" width="1" height="1" fill="#00f"/><rect x="1664" y="18" width="1" height="1" fill="#00f"/><rect x="1665" y="17" width="1" height="1" fill="#00f"/><rect x="1666" y="16" width="1" height="1" fill="#00f"/><rect x="1667" y="15" width="1" height="1" fill="#00f"/><rect x="1668" y="14" width="1" height="1" fill="#00f"/><rect x="1665" y="10" width="1" height="1" fill="#00f"/><rect x="1666" y="11" width="1" height="1" fill="#00f"/><rect x="1667" y="12" width="1" height="1" fill="#00f"/><rect x="1668" y="13" width="1" height="1" fill="#00f"/><rect x="1669" y="14" width="1" height="1" fill="#00f"/><rect x="1670" y="15" width="1" height="1" fill="#00f"/><rect x="1671" y="16" width="1" height="1" fill="#00f"/><rect x="1672" y="17" width="1" height="1" fill="#00f"/><rect x="1666" y="9" width="1" height="1" fill="#00f"/><rect x="1667" y="8" width="1" height="1" fill="#00f"/><rect x="1668" y="7" width="1" height="1" fill="#00f"/><rect x="1669" y="6" width="1" height="1" fill="#00f"/><rect x="1670" y="5" width="1" height="1" fill="#00f"/><rect x="1671" y="4" width="1" height="1" fill="#00f"/><rect x="1673" y="16" width="1" height="1" fill="#00f"/><rect x="1674" y="15" width="1" height="1" fill="#00f"/><rect x="1675" y="14" width="1" height="1" fill="#00f"/><rect x="1676" y="13" width="1" height="1" fill="#00f"/><rect x="1677" y="12" width="1" height="1" fill="#00f"/><rect x="1678" y="11" width="1" height="1" fill="#00f"/><rect x="1668" y="13" width="1" height="1" fill="#00f"/><rect x="1669" y="13" width="1" height="1" fill="#00f"/></g>
<g class="crisp"><rect x="1686" y="16" width="1" height="1" fill="#00f"/><rect x="1687" y="15" width="1" height="1" fill="#00f"/><rect x="1688" y="14" width="1" height="1" fill="#00f"/><rect x="1689" y="13" width="1" height="1" fill="#00f"/><rect x="1690" y="12" width="1" height="1" fill="#00f"/><rect x="1691" y="11" width="1" height="1" fill="#00f"/><rect x="1692" y="10" width="1" height="1" fill="#00f"/><rect x="1693" y="9" width="1" height="1" fill="#00f"/><rect x="1694" y="8" width="1" height="1" fill="#00f"/><rect x="1695" y="7" width="1" height="1" fill="#00f"/><rect x="1696" y="6" width="1" height="1" fill="#00f"/><rect x="1697" y="5" width="1" height="1" fill="#00f"/><rect x="1698" y="4" width="1" height="1" fill="#00f"/><rect x="1689" y="19" width="1" height="1" fill="#00f"/><rect x="1690" y="18" width="1" height="1" fill="#00f"/><rect x="1691" y="17" width="1" height="1" fill="#00f"/><rect x="1692" y="16" width="1" height="1" fill="#00f"/><rect x="1693" y="15" width="1" height="1" fill="#00f"/><rect x="1694" y="14" width="1" height="1" fill="#00f"/><rect x="1695" y="13" width="1" height="1" fill="#00f"/><rect x="1696" y="12" width="1" height="1" fill="#00f"/><rect x="1697" y="11" width="1" height="1" fill="#00f"/><rect x="1698" y="10" width="1" height="1" fill="#00f"/><rect x="1699" y="9" width="1" height="1" fill="#00f"/><rect x="1700" y="8" width="1" height="1" fill="#00f"/><rect x="1701" y="7" width="1" height="1" fill="#00f"/></g>
<text x="1709.9" y="17.8" style="font-family:'Liberation Serif','DejaVu Serif',serif;font-weight:bold;font-size:17px" textLength="14.2" lengthAdjust="spacingAndGlyphs">N</text>
<g class="crisp"><rect x="1732" y="7" width="16" height="9" fill="#000"/><rect x="1733" y="8" width="14" height="7" fill="#ff0"/></g>
<g class="crisp"><rect x="1760" y="4" width="1" height="1" fill="#00f"/><rect x="1761" y="4" width="1" height="1" fill="#00f"/><rect x="1762" y="4" width="1" height="1" fill="#00f"/><rect x="1763" y="4" width="1" height="1" fill="#00f"/><rect x="1764" y="4" width="1" height="1" fill="#00f"/><rect x="1765" y="4" width="1" height="1" fill="#00f"/><rect x="1760" y="19" width="1" height="1" fill="#00f"/><rect x="1761" y="19" width="1" height="1" fill="#00f"/><rect x="1762" y="19" width="1" height="1" fill="#00f"/><rect x="1763" y="19" width="1" height="1" fill="#00f"/><rect x="1764" y="19" width="1" height="1" fill="#00f"/><rect x="1765" y="19" width="1" height="1" fill="#00f"/><rect x="1758" y="5" width="1" height="1" fill="#00f"/><rect x="1759" y="5" width="1" height="1" fill="#00f"/><rect x="1766" y="5" width="1" height="1" fill="#00f"/><rect x="1767" y="5" width="1" height="1" fill="#00f"/><rect x="1758" y="18" width="1" height="1" fill="#00f"/><rect x="1759" y="18" width="1" height="1" fill="#00f"/><rect x="1766" y="18" width="1" height="1" fill="#00f"/><rect x="1767" y="18" width="1" height="1" fill="#00f"/><rect x="1757" y="6" width="1" height="1" fill="#00f"/><rect x="1768" y="6" width="1" height="1" fill="#00f"/><rect x="1757" y="17" width="1" height="1" fill="#00f"/><rect x="1768" y="17" width="1" height="1" fill="#00f"/><rect x="1756" y="7" width="1" height="1" fill="#00f"/><rect x="1756" y="8" width="1" height="1" fill="#00f"/><rect x="1769" y="7" width="1" height="1" fill="#00f"/><rect x="1769" y="8" width="1" height="1" fill="#00f"/><rect x="1756" y="15" width="1" height="1" fill="#00f"/><rect x="1756" y="16" width="1" height="1" fill="#00f"/><rect x="1769" y="15" width="1" height="1" fill="#00f"/><rect x="1769" y="16" width="1" height="1" fill="#00f"/><rect x="1755" y="9" width="1" height="1" fill="#00f"/><rect x="1755" y="10" width="1" height="1" fill="#00f"/><rect x="1755" y="11" width="1" height="1" fill="#00f"/><rect x="1755" y="12" width="1" height="1" fill="#00f"/><rect x="1755" y="13" width="1" height="1" fill="#00f"/><rect x="1755" y="14" width="1" height="1" fill="#00f"/><rect x="1770" y="9" width="1" height="1" fill="#00f"/><rect x="1770" y="10" width="1" height="1" fill="#00f"/><rect x="1770" y="11" width="1" height="1" fill="#00f"/><rect x="1770" y="12" width="1" height="1" fill="#00f"/><rect x="1770" y="13" width="1" height="1" fill="#00f"/><rect x="1770" y="14" width="1" height="1" fill="#00f"/><rect x="1762" y="11" width="1" height="1" fill="#f00"/><rect x="1763" y="11" width="1" height="1" fill="#f00"/><rect x="1762" y="12" width="1" height="1" fill="#f00"/><rect x="1763" y="12" width="1" height="1" fill="#f00"/><rect x="1764" y="10" width="1" height="1" fill="#f00"/><rect x="1765" y="9" width="1" height="1" fill="#f00"/><rect x="1766" y="8" width="1" height="1" fill="#f00"/><rect x="1767" y="7" width="1" height="1" fill="#f00"/><rect x="1768" y="6" width="1" height="1" fill="#f00"/><rect x="1769" y="5" width="1" height="1" fill="#f00"/><rect x="1770" y="4" width="1" height="1" fill="#f00"/><rect x="1764" y="13" width="1" height="1" fill="#f00"/><rect x="1765" y="14" width="1" height="1" fill="#f00"/><rect x="1766" y="15" width="1" height="1" fill="#f00"/><rect x="1767" y="16" width="1" height="1" fill="#f00"/><rect x="1768" y="17" width="1" height="1" fill="#f00"/><rect x="1769" y="18" width="1" height="1" fill="#f00"/><rect x="1770" y="19" width="1" height="1" fill="#f00"/></g>
<g class="crisp" fill="#000"><rect x="1785" y="4" width="2" height="16"/><rect x="1787" y="6" width="2" height="2"/><rect x="1783" y="16" width="2" height="2"/></g>
<g class="crisp"><rect x="1801" y="15" width="1" height="1" fill="#000"/><rect x="1802" y="14" width="1" height="1" fill="#000"/><rect x="1802" y="13" width="1" height="1" fill="#000"/><rect x="1803" y="12" width="1" height="1" fill="#000"/><rect x="1804" y="11" width="1" height="1" fill="#000"/><rect x="1804" y="10" width="1" height="1" fill="#000"/><rect x="1805" y="9" width="1" height="1" fill="#000"/><rect x="1806" y="9" width="1" height="1" fill="#000"/><rect x="1807" y="10" width="1" height="1" fill="#000"/><rect x="1807" y="11" width="1" height="1" fill="#000"/><rect x="1808" y="12" width="1" height="1" fill="#000"/><rect x="1809" y="13" width="1" height="1" fill="#000"/><rect x="1810" y="14" width="1" height="1" fill="#000"/><rect x="1810" y="15" width="1" height="1" fill="#000"/><rect x="1811" y="16" width="1" height="1" fill="#000"/><rect x="1812" y="15" width="1" height="1" fill="#000"/><rect x="1812" y="14" width="1" height="1" fill="#000"/><rect x="1813" y="13" width="1" height="1" fill="#000"/><rect x="1813" y="12" width="1" height="1" fill="#000"/><rect x="1814" y="11" width="1" height="1" fill="#000"/><rect x="1814" y="10" width="1" height="1" fill="#000"/><rect x="1815" y="9" width="1" height="1" fill="#000"/><rect x="1815" y="8" width="1" height="1" fill="#000"/><rect x="1816" y="7" width="1" height="1" fill="#000"/><rect x="1816" y="6" width="1" height="1" fill="#000"/></g>
<g class="crisp"><rect x="1831" y="4" width="1" height="16" fill="#000"/><rect x="1828" y="7" width="7" height="10" fill="#000"/><rect x="1829" y="8" width="5" height="8" fill="#fff"/></g>
<g class="crisp"><rect x="1850" y="4" width="1" height="1" fill="#ff0"/><rect x="1853" y="4" width="5" height="1" fill="#000"/><rect x="1850" y="5" width="1" height="1" fill="#ff0"/><rect x="1852" y="5" width="1" height="1" fill="#000"/><rect x="1853" y="5" width="5" height="1" fill="#c0c0c0"/><rect x="1858" y="5" width="1" height="1" fill="#000"/><rect x="1847" y="6" width="1" height="1" fill="#ff0"/><rect x="1850" y="6" width="1" height="1" fill="#ff0"/><rect x="1851" y="6" width="1" height="1" fill="#000"/><rect x="1852" y="6" width="2" height="1" fill="#c0c0c0"/><rect x="1854" y="6" width="3" height="1" fill="#000"/><rect x="1857" y="6" width="2" height="1" fill="#c0c0c0"/><rect x="1859" y="6" width="1" height="1" fill="#000"/><rect x="1848" y="7" width="1" height="1" fill="#ff0"/><rect x="1850" y="7" width="1" height="1" fill="#ff0"/><rect x="1851" y="7" width="1" height="1" fill="#000"/><rect x="1852" y="7" width="1" height="1" fill="#c0c0c0"/><rect x="1853" y="7" width="1" height="1" fill="#000"/><rect x="1854" y="7" width="3" height="1" fill="#fff"/><rect x="1857" y="7" width="1" height="1" fill="#000"/><rect x="1858" y="7" width="1" height="1" fill="#c0c0c0"/><rect x="1859" y="7" width="1" height="1" fill="#000"/><rect x="1849" y="8" width="2" height="1" fill="#ff0"/><rect x="1851" y="8" width="1" height="1" fill="#000"/><rect x="1852" y="8" width="1" height="1" fill="#c0c0c0"/><rect x="1853" y="8" width="1" height="1" fill="#000"/><rect x="1854" y="8" width="3" height="1" fill="#fff"/><rect x="1857" y="8" width="1" height="1" fill="#000"/><rect x="1858" y="8" width="1" height="1" fill="#c0c0c0"/><rect x="1859" y="8" width="1" height="1" fill="#000"/><rect x="1847" y="9" width="4" height="1" fill="#ff0"/><rect x="1851" y="9" width="2" height="1" fill="#000"/><rect x="1854" y="9" width="2" height="1" fill="#ff0"/><rect x="1857" y="9" width="1" height="1" fill="#000"/><rect x="1858" y="9" width="1" height="1" fill="#c0c0c0"/><rect x="1859" y="9" width="1" height="1" fill="#000"/><rect x="1849" y="10" width="4" height="1" fill="#ff0"/><rect x="1857" y="10" width="1" height="1" fill="#000"/><rect x="1858" y="10" width="1" height="1" fill="#c0c0c0"/><rect x="1859" y="10" width="1" height="1" fill="#000"/><rect x="1848" y="11" width="1" height="1" fill="#ff0"/><rect x="1849" y="11" width="13" height="1" fill="#000"/><rect x="1847" y="12" width="1" height="1" fill="#ff0"/><rect x="1849" y="12" width="1" height="1" fill="#000"/><rect x="1850" y="12" width="11" height="1" fill="#fff"/><rect x="1861" y="12" width="1" height="1" fill="#000"/><rect x="1849" y="13" width="1" height="1" fill="#000"/><rect x="1850" y="13" width="2" height="1" fill="#808080"/><rect x="1852" y="13" width="2" height="1" fill="#fff"/><rect x="1854" y="13" width="1" height="1" fill="#00f"/><rect x="1855" y="13" width="4" height="1" fill="#fff"/><rect x="1859" y="13" width="2" height="1" fill="#808080"/><rect x="1861" y="13" width="1" height="1" fill="#000"/><rect x="1849" y="14" width="1" height="1" fill="#000"/><rect x="1850" y="14" width="4" height="1" fill="#fff"/><rect x="1854" y="14" width="1" height="1" fill="#00f"/><rect x="1855" y="14" width="6" height="1" fill="#fff"/><rect x="1861" y="14" width="1" height="1" fill="#000"/><rect x="1849" y="15" width="1" height="1" fill="#000"/><rect x="1850" y="15" width="2" height="1" fill="#808080"/><rect x="1852" y="15" width="2" height="1" fill="#fff"/><rect x="1854" y="15" width="1" height="1" fill="#00f"/><rect x="1855" y="15" width="4" height="1" fill="#fff"/><rect x="1859" y="15" width="2" height="1" fill="#808080"/><rect x="1861" y="15" width="1" height="1" fill="#000"/><rect x="1849" y="16" width="1" height="1" fill="#000"/><rect x="1850" y="16" width="4" height="1" fill="#fff"/><rect x="1854" y="16" width="1" height="1" fill="#00f"/><rect x="1855" y="16" width="6" height="1" fill="#fff"/><rect x="1861" y="16" width="1" height="1" fill="#000"/><rect x="1850" y="17" width="1" height="1" fill="#000"/><rect x="1851" y="17" width="3" height="1" fill="#fff"/><rect x="1854" y="17" width="3" height="1" fill="#00f"/><rect x="1857" y="17" width="3" height="1" fill="#fff"/><rect x="1860" y="17" width="1" height="1" fill="#000"/><rect x="1851" y="18" width="2" height="1" fill="#000"/><rect x="1853" y="18" width="5" height="1" fill="#fff"/><rect x="1858" y="18" width="2" height="1" fill="#000"/><rect x="1853" y="19" width="5" height="1" fill="#000"/></g>
<g class="crisp"><rect x="1875" y="4" width="5" height="1" fill="#000"/><rect x="1875" y="5" width="1" height="1" fill="#000"/><rect x="1876" y="5" width="3" height="1" fill="#808080"/><rect x="1879" y="5" width="1" height="1" fill="#000"/><rect x="1872" y="6" width="11" height="1" fill="#000"/><rect x="1872" y="7" width="1" height="1" fill="#000"/><rect x="1873" y="7" width="2" height="1" fill="#fff"/><rect x="1875" y="7" width="7" height="1" fill="#c0c0c0"/><rect x="1882" y="7" width="1" height="1" fill="#000"/><rect x="1872" y="8" width="11" height="1" fill="#000"/><rect x="1873" y="9" width="1" height="1" fill="#000"/><rect x="1874" y="9" width="1" height="1" fill="#fff"/><rect x="1875" y="9" width="1" height="1" fill="#000"/><rect x="1876" y="9" width="1" height="1" fill="#808080"/><rect x="1877" y="9" width="1" height="1" fill="#000"/><rect x="1878" y="9" width="1" height="1" fill="#fff"/><rect x="1879" y="9" width="1" height="1" fill="#000"/><rect x="1880" y="9" width="1" height="1" fill="#808080"/><rect x="1881" y="9" width="1" height="1" fill="#000"/><rect x="1873" y="10" width="1" height="1" fill="#000"/><rect x="1874" y="10" width="1" height="1" fill="#fff"/><rect x="1875" y="10" width="1" height="1" fill="#000"/><rect x="1876" y="10" width="1" height="1" fill="#808080"/><rect x="1877" y="10" width="1" height="1" fill="#000"/><rect x="1878" y="10" width="1" height="1" fill="#808080"/><rect x="1879" y="10" width="1" height="1" fill="#000"/><rect x="1880" y="10" width="1" height="1" fill="#808080"/><rect x="1881" y="10" width="1" height="1" fill="#000"/><rect x="1872" y="11" width="2" height="1" fill="#000"/><rect x="1874" y="11" width="1" height="1" fill="#fff"/><rect x="1875" y="11" width="1" height="1" fill="#000"/><rect x="1876" y="11" width="1" height="1" fill="#808080"/><rect x="1877" y="11" width="1" height="1" fill="#000"/><rect x="1878" y="11" width="1" height="1" fill="#fff"/><rect x="1879" y="11" width="1" height="1" fill="#000"/><rect x="1880" y="11" width="1" height="1" fill="#808080"/><rect x="1881" y="11" width="2" height="1" fill="#000"/><rect x="1871" y="12" width="1" height="1" fill="#000"/><rect x="1873" y="12" width="1" height="1" fill="#000"/><rect x="1874" y="12" width="1" height="1" fill="#fff"/><rect x="1875" y="12" width="1" height="1" fill="#000"/><rect x="1876" y="12" width="1" height="1" fill="#808080"/><rect x="1877" y="12" width="1" height="1" fill="#000"/><rect x="1878" y="12" width="1" height="1" fill="#808080"/><rect x="1879" y="12" width="1" height="1" fill="#000"/><rect x="1880" y="12" width="1" height="1" fill="#808080"/><rect x="1881" y="12" width="1" height="1" fill="#000"/><rect x="1883" y="12" width="1" height="1" fill="#000"/><rect x="1873" y="13" width="1" height="1" fill="#000"/><rect x="1874" y="13" width="1" height="1" fill="#fff"/><rect x="1875" y="13" width="1" height="1" fill="#000"/><rect x="1876" y="13" width="1" height="1" fill="#808080"/><rect x="1877" y="13" width="1" height="1" fill="#000"/><rect x="1878" y="13" width="1" height="1" fill="#fff"/><rect x="1879" y="13" width="1" height="1" fill="#000"/><rect x="1880" y="13" width="1" height="1" fill="#808080"/><rect x="1881" y="13" width="1" height="1" fill="#000"/><rect x="1873" y="14" width="1" height="1" fill="#000"/><rect x="1874" y="14" width="1" height="1" fill="#fff"/><rect x="1875" y="14" width="1" height="1" fill="#000"/><rect x="1876" y="14" width="1" height="1" fill="#808080"/><rect x="1877" y="14" width="1" height="1" fill="#000"/><rect x="1878" y="14" width="1" height="1" fill="#808080"/><rect x="1879" y="14" width="1" height="1" fill="#000"/><rect x="1880" y="14" width="1" height="1" fill="#808080"/><rect x="1881" y="14" width="1" height="1" fill="#000"/><rect x="1873" y="15" width="1" height="1" fill="#000"/><rect x="1874" y="15" width="1" height="1" fill="#fff"/><rect x="1875" y="15" width="1" height="1" fill="#000"/><rect x="1876" y="15" width="1" height="1" fill="#808080"/><rect x="1877" y="15" width="1" height="1" fill="#000"/><rect x="1878" y="15" width="1" height="1" fill="#fff"/><rect x="1879" y="15" width="1" height="1" fill="#000"/><rect x="1880" y="15" width="1" height="1" fill="#808080"/><rect x="1881" y="15" width="1" height="1" fill="#000"/><rect x="1873" y="16" width="1" height="1" fill="#000"/><rect x="1874" y="16" width="1" height="1" fill="#fff"/><rect x="1875" y="16" width="1" height="1" fill="#000"/><rect x="1876" y="16" width="1" height="1" fill="#808080"/><rect x="1877" y="16" width="1" height="1" fill="#000"/><rect x="1878" y="16" width="1" height="1" fill="#808080"/><rect x="1879" y="16" width="1" height="1" fill="#000"/><rect x="1880" y="16" width="1" height="1" fill="#808080"/><rect x="1881" y="16" width="1" height="1" fill="#000"/><rect x="1873" y="17" width="1" height="1" fill="#000"/><rect x="1874" y="17" width="1" height="1" fill="#fff"/><rect x="1875" y="17" width="1" height="1" fill="#000"/><rect x="1876" y="17" width="1" height="1" fill="#808080"/><rect x="1877" y="17" width="1" height="1" fill="#000"/><rect x="1878" y="17" width="1" height="1" fill="#fff"/><rect x="1879" y="17" width="1" height="1" fill="#000"/><rect x="1880" y="17" width="1" height="1" fill="#808080"/><rect x="1881" y="17" width="1" height="1" fill="#000"/><rect x="1873" y="18" width="1" height="1" fill="#000"/><rect x="1874" y="18" width="1" height="1" fill="#fff"/><rect x="1875" y="18" width="5" height="1" fill="#000"/><rect x="1880" y="18" width="1" height="1" fill="#808080"/><rect x="1881" y="18" width="1" height="1" fill="#000"/><rect x="1873" y="19" width="9" height="1" fill="#000"/></g>
<g>
<rect class="crisp" x="1893" y="4" width="15" height="15" fill="#d8200a"/>
<rect class="crisp" x="1893" y="4" width="15" height="1" fill="#e0402c"/>
<rect class="crisp" x="1894" y="5" width="13" height="5" fill="#e86a5a"/>
<rect class="crisp" x="1894" y="10" width="13" height="1" fill="#e0463a"/>
<rect class="crisp" x="1894" y="16" width="13" height="2" fill="#e23c24"/>
<rect class="crisp" x="1893" y="18" width="15" height="1" fill="#8a0a00"/>
<rect class="crisp" x="1907" y="4" width="1" height="15" fill="#a01000"/>
<rect class="crisp" x="1893" y="4" width="1" height="1" fill="#7a0000"/>
<path d="M1896.8 8 L1904 15.2 M1904 8 L1896.8 15.2" stroke="#fff" stroke-width="2.7" fill="none"/>
</g>
</g>
</svg>
</body></html>
